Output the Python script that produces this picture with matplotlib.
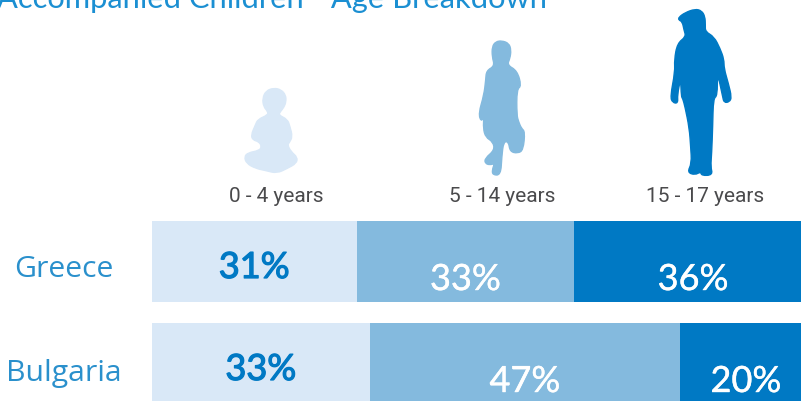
import matplotlib
matplotlib.use("Agg")
import matplotlib.pyplot as plt
import matplotlib.patheffects as pe
from matplotlib.patches import PathPatch
from matplotlib.path import Path

# ---- data ----
countries = ["Greece", "Bulgaria"]
age_groups = ["0 - 4 years", "5 - 14 years", "15 - 17 years"]
greece = [31, 33, 36]
bulgaria = [33, 47, 20]
title = "Accompanied Children - Age Breakdown"

colors = ["#D9E8F7", "#84BADE", "#0079C4"]
label_colors = ["#0079C4", "#FFFFFF", "#FFFFFF"]
label_stroke = [0.9, 0.3, 0.3]
label_dy = [3, 15, 15]

W, H = 801, 401
PX_PER_PCT = 6.6
X0 = 152

fig = plt.figure(figsize=(W / 100, H / 100), dpi=100)
ax = fig.add_axes([0, 0, 1, 1])
ax.set_xlim(-X0 / PX_PER_PCT, (W - X0) / PX_PER_PCT)
ax.set_ylim(H, 0)
ax.axis("off")
px = lambda x: (x - X0) / PX_PER_PCT

ypos = [261.5, 363.5]
bar_h = 81
for yc, name, vals in zip(ypos, countries, [greece, bulgaria]):
    left = 0
    for i, v in enumerate(vals):
        ax.barh(yc, v, left=left, height=bar_h, color=colors[i], linewidth=0)
        ax.text(left + v / 2, yc + label_dy[i], f"{v}%", ha="center", va="center_baseline",
                color=label_colors[i], fontsize=26, family="Lato",
                path_effects=[pe.withStroke(linewidth=label_stroke[i], foreground=label_colors[i])])
        left += v

ax.text(px(63.5), 266, countries[0], ha="center", va="center_baseline", color="#2A90CC",
        fontsize=21.7, family="Open Sans")
ax.text(px(63.5), 370, countries[1], ha="center", va="center_baseline", color="#2A90CC",
        fontsize=21.7, family="Open Sans")

ax.text(px(-3), 8, title, ha="left", va="baseline", color="#1B8FD2", fontsize=22.2, family="Lato")

for xc, lab in zip([276, 502, 705], age_groups):
    ax.text(px(xc), 196, lab, ha="center", va="center", color="#4A4A4C", fontsize=15, family="Roboto")

baby = [(767,264),(787,269),(800,285),(801,305),(795,322),(785,335),(780,345),(805,358),(812,380),(819,410),
        (810,428),(805,435),(815,455),(833,472),(830,490),(805,505),(775,520),(745,512),(715,505),(690,490),
        (684,470),(695,458),(725,452),(733,440),(725,425),(708,420),(703,405),(715,375),(722,358),(750,345),
        (750,335),(738,320),(735,295),(745,272)]
girl = [(1405,122),(1425,130),(1431,150),(1428,175),(1420,195),(1448,212),(1460,258),(1447,268),(1447,345),
        (1452,365),(1460,385),(1470,395),(1465,450),(1450,460),(1428,455),(1424,425),(1410,425),
        (1405,470),(1402,525),(1380,525),(1378,510),(1385,490),(1372,495),(1358,490),(1358,475),(1385,450),
        (1380,425),(1360,412),(1353,385),(1355,350),(1347,365),(1340,340),(1355,285),(1360,240),(1362,212),
        (1385,198),(1378,170),(1378,140),(1388,125)]
boy = [(716,52),(735,38),(765,27),(785,32),(795,50),(796,75),(796,95),(822,110),(840,145),(852,178),(852,205),
       (865,250),(875,292),(868,306),(852,308),(848,290),(832,215),(832,288),(820,295),(818,380),(815,460),
       (812,500),(818,525),(785,527),(782,515),(765,525),(742,517),(755,490),(752,440),(748,385),(735,320),
       (728,295),(724,290),(722,235),(712,285),(714,310),(698,308),(691,290),(705,215),(703,180),(712,130),
       (738,110),(732,90),(727,65),(716,60)]


def smooth(pts):
    n = len(pts)
    mid = lambda a, b: ((a[0] + b[0]) / 2, (a[1] + b[1]) / 2)
    verts = [mid(pts[-1], pts[0])]
    codes = [Path.MOVETO]
    for i in range(n):
        verts += [pts[i], mid(pts[i], pts[(i + 1) % n])]
        codes += [Path.CURVE3, Path.CURVE3]
    return Path(verts, codes)


shapes = [(baby, 2.8, 0), (girl, 2.8, 0), (boy, 3.0, 440)]
for (pts, sx, dx), c in zip(shapes, colors):
    conv = [(px(x / sx + dx), y / 3) for x, y in pts]
    ax.add_patch(PathPatch(smooth(conv), facecolor=c, edgecolor=c, linewidth=1.0, joinstyle="round"))

fig.savefig("out.png", dpi=100)
